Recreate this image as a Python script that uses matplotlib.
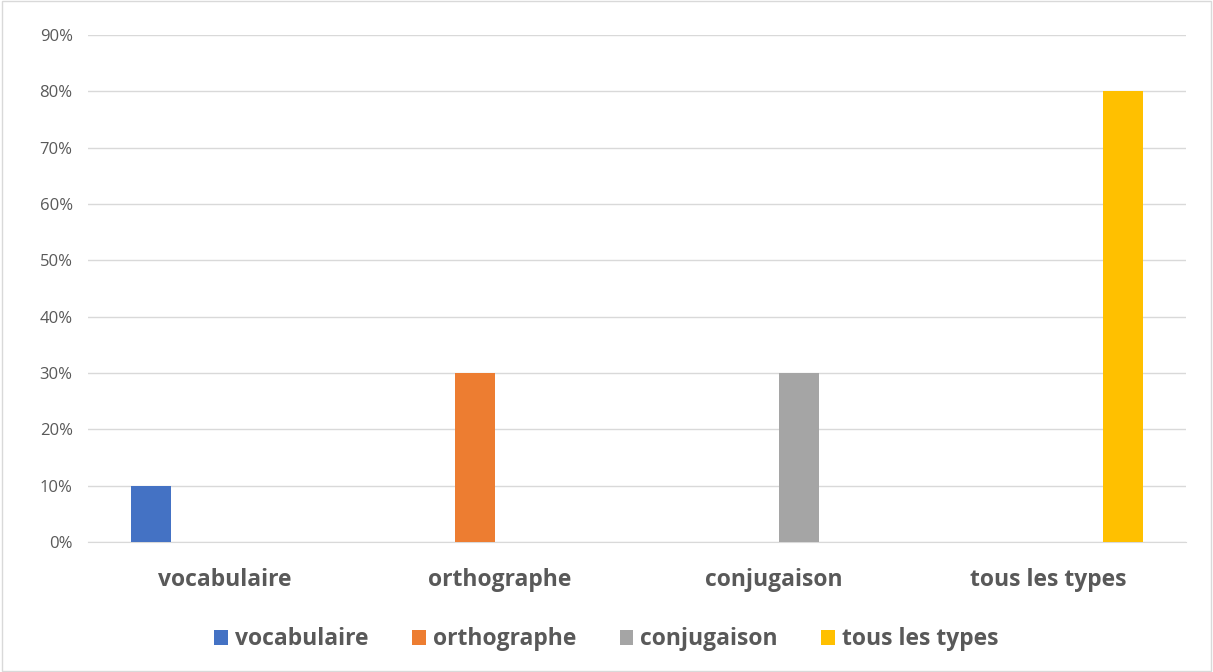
import numpy as np
import matplotlib.pyplot as plt
from matplotlib.patches import Rectangle

categories = ["vocabulaire", "orthographe", "conjugaison", "tous les types"]
series_names = ["vocabulaire", "orthographe", "conjugaison", "tous les types"]
series_values = [
    [0.10, 0, 0, 0],
    [0, 0.30, 0, 0],
    [0, 0, 0.30, 0],
    [0, 0, 0, 0.80],
]
colors = ["#4472C4", "#ED7D31", "#A5A5A5", "#FFC000"]
yticks = [0, 0.1, 0.2, 0.3, 0.4, 0.5, 0.6, 0.7, 0.8, 0.9]

plt.rcParams['font.family'] = ['Open Sans', 'DejaVu Sans']

fig = plt.figure(figsize=(12.13, 6.72), dpi=100)
ax = fig.add_axes([0.0725, 0.1935, 0.905, 0.7545])

x = np.arange(len(categories))
width = 0.146
step = 0.18
for i, (name, vals) in enumerate(zip(series_names, series_values)):
    off = (i - 1.5) * step
    ax.bar(x + off, vals, width, color=colors[i], label=name, zorder=3)

ax.set_xlim(-0.5, len(categories) - 0.5)
ax.set_ylim(0, 0.9)
ax.set_yticks(yticks)
ax.set_yticklabels([f"{int(round(t * 100))}%" for t in yticks], fontsize=12, color="#595959")
ax.set_xticks(x)
ax.set_xticklabels(categories, fontsize=16.5, fontweight="bold", color="#595959")
ax.tick_params(axis="both", length=0)
ax.tick_params(axis="x", pad=19)
ax.tick_params(axis="y", pad=11)
ax.grid(axis="y", color="#D9D9D9", linewidth=1, zorder=0)
for s in ["top", "right", "left"]:
    ax.spines[s].set_visible(False)
ax.spines["bottom"].set_color("#D9D9D9")

leg = fig.legend(loc="lower center", bbox_to_anchor=(0.5, 0.0), ncol=4, frameon=False,
                 handlelength=0.6, handleheight=0.6, handletextpad=0.3, columnspacing=1.9,
                 prop={"size": 16.5, "weight": "bold"})
for t in leg.get_texts():
    t.set_color("#595959")

fig.patches.append(Rectangle((0.002, 0.002), 0.996, 0.996, transform=fig.transFigure,
                             fill=False, edgecolor="#D9D9D9", linewidth=1))

fig.savefig("out.png", dpi=100)
